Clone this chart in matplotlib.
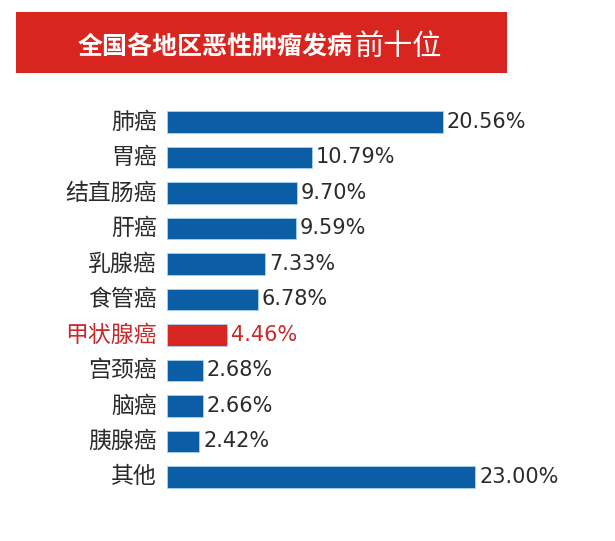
import matplotlib.pyplot as plt
from matplotlib.patches import Rectangle

plt.rcParams['font.family'] = ['Noto Sans CJK SC', 'DejaVu Sans']

# 数据
categories = ['肺癌', '胃癌', '结直肠癌', '肝癌', '乳腺癌', '食管癌',
              '甲状腺癌', '宫颈癌', '脑癌', '胰腺癌', '其他']
values = [20.56, 10.79, 9.70, 9.59, 7.33, 6.78, 4.46, 2.68, 2.66, 2.42, 23.00]
highlight = '甲状腺癌'

BLUE = '#0b5ea6'
RED = '#d8251f'
TEXT = '#2b2b2b'

fig = plt.figure(figsize=(6.15, 5.41), dpi=100)
fig.patch.set_facecolor('white')

# 标题横幅
fig.patches.append(Rectangle((0.026, 0.865), 0.798, 0.113, transform=fig.transFigure,
                             facecolor=RED, edgecolor='none', zorder=0))
fig.text(0.574, 0.899, '全国各地区恶性肿瘤发病', color='white', fontsize=18,
         fontweight='bold', ha='right', va='baseline')
fig.text(0.577, 0.899, '前十位', color='white', fontsize=21,
         fontweight='medium', ha='left', va='baseline')

ax = fig.add_axes([0.2715, 0.0855, 0.7285, 0.7218])
pos = list(range(len(categories)))
colors = [RED if c == highlight else BLUE for c in categories]
ax.barh(pos, values, height=0.6, color=colors, edgecolor='#a9d4ef', linewidth=0.6)
ax.set_xlim(0, 33.4)
ax.set_ylim(len(categories) - 0.5, -0.5)
ax.axis('off')

for i, (c, v) in enumerate(zip(categories, values)):
    col = '#c92a2a' if c == highlight else TEXT
    ax.text(-0.75, i, c, ha='right', va='center', fontsize=16.5, color=col)
    ax.text(v + 0.3, i, '%.2f%%' % v, ha='left', va='center', fontsize=15,
            color=col, family='DejaVu Sans')

fig.savefig('out.png', dpi=100, facecolor='white')
